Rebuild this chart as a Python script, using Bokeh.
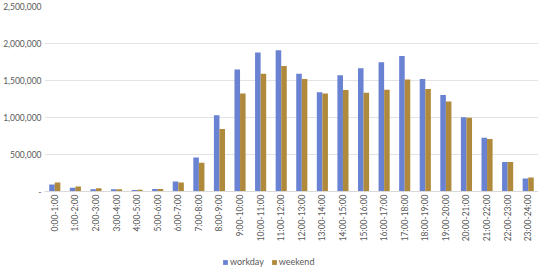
import math
from bokeh.plotting import figure
from bokeh.models import (ColumnDataSource, FactorRange, Range1d, Legend, LegendItem,
                          CustomJSTickFormatter, FixedTicker)
from bokeh.transform import dodge
from bokeh.embed import file_html
from bokeh.resources import INLINE

hours = ["0:00-1:00", "1:00-2:00", "2:00-3:00", "3:00-4:00", "4:00-5:00", "5:00-6:00",
         "6:00-7:00", "7:00-8:00", "8:00-9:00", "9:00-10:00", "10:00-11:00", "11:00-12:00",
         "12:00-13:00", "13:00-14:00", "14:00-15:00", "15:00-16:00", "16:00-17:00",
         "17:00-18:00", "18:00-19:00", "19:00-20:00", "20:00-21:00", "21:00-22:00",
         "22:00-23:00", "23:00-24:00"]
workday = [95000, 50000, 30000, 30000, 20000, 35000, 135000, 460000, 1030000, 1650000,
           1880000, 1910000, 1590000, 1340000, 1570000, 1665000, 1745000, 1830000,
           1520000, 1305000, 1005000, 725000, 400000, 175000]
weekend = [120000, 68000, 45000, 30000, 25000, 35000, 120000, 390000, 845000, 1325000,
           1590000, 1695000, 1520000, 1325000, 1370000, 1335000, 1375000, 1515000,
           1385000, 1215000, 995000, 710000, 400000, 190000]
y_ticks = [0, 500000, 1000000, 1500000, 2000000, 2500000]

src = ColumnDataSource(dict(hour=hours, workday=workday, weekend=weekend))

FONT = "Lato"
# frame extends below zero so that the rotated hour labels and the legend sit inside it
p = figure(x_range=FactorRange(factors=hours, range_padding=0),
           y_range=Range1d(-1040540, 2500000),
           frame_width=494, frame_height=262, output_backend="svg", toolbar_location=None,
           min_border_left=40, min_border_right=0, min_border_top=6, min_border_bottom=0)
p.outline_line_color = None
p.background_fill_color = "white"
p.border_fill_color = "white"

r1 = p.vbar(x=dodge("hour", -0.135, range=p.x_range), top="workday", width=0.27,
            source=src, color="#6A82D2", line_color=None)
r2 = p.vbar(x=dodge("hour", 0.135, range=p.x_range), top="weekend", width=0.27,
            source=src, color="#B08A3C", line_color=None)

p.xgrid.grid_line_color = None
p.ygrid.grid_line_color = "#E3E3E3"
p.ygrid.ticker = FixedTicker(ticks=y_ticks)

p.yaxis.ticker = FixedTicker(ticks=y_ticks)
p.yaxis.formatter = CustomJSTickFormatter(code="""
    if (tick == 0) { return "-"; }
    return tick.toString().replace(/\\B(?=(\\d{3})+(?!\\d))/g, ",");
""")
p.yaxis.axis_line_color = None
p.yaxis.major_tick_line_color = None
p.yaxis.minor_tick_line_color = None
p.yaxis.major_tick_out = 0
p.yaxis.major_tick_in = 0
p.yaxis.major_label_text_font = FONT
p.yaxis.major_label_text_font_size = "8.5px"
p.yaxis.major_label_text_color = "#595959"
p.yaxis.major_label_standoff = 3

p.xaxis.fixed_location = 0
p.xaxis.axis_line_color = "#D9D9D9"
p.xaxis.major_tick_line_color = None
p.xaxis.minor_tick_line_color = None
p.xaxis.major_tick_out = 0
p.xaxis.major_tick_in = 0
p.xaxis.major_label_orientation = math.pi / 2
p.xaxis.major_label_text_font = FONT
p.xaxis.major_label_text_font_size = "8.5px"
p.xaxis.major_label_text_color = "#595959"
p.xaxis.major_label_standoff = 3

legend = Legend(items=[LegendItem(label="workday", renderers=[r1]),
                       LegendItem(label="weekend", renderers=[r2])],
                orientation="horizontal", location=(178, 1),
                label_text_font=FONT, label_text_font_size="9px",
                label_text_color="#595959", glyph_width=6, glyph_height=6,
                label_standoff=2, spacing=7, padding=1, margin=0,
                border_line_color=None, background_fill_alpha=0,
                label_height=10)
p.add_layout(legend, "center")

open("out.html", "w").write(file_html(p, INLINE))
